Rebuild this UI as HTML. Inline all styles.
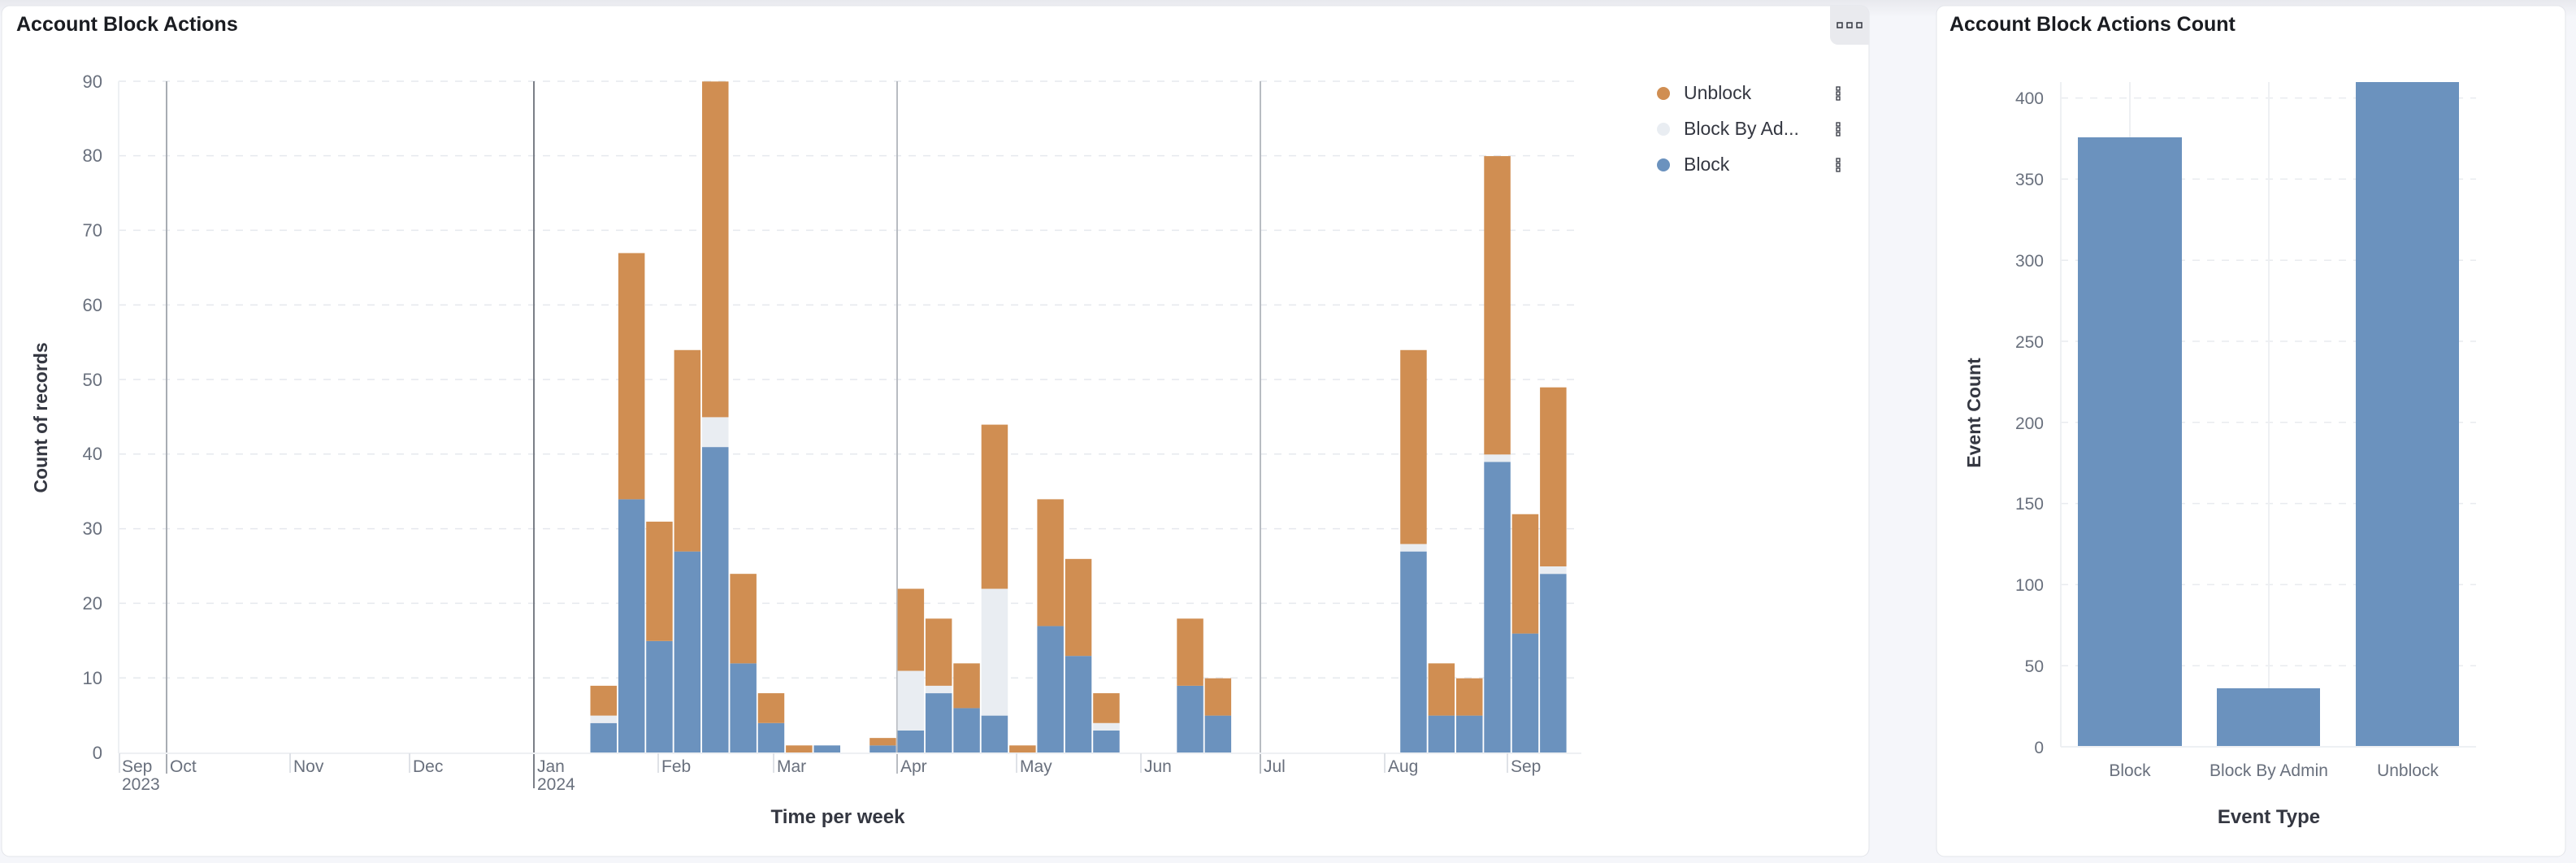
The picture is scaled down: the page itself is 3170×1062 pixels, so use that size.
<!DOCTYPE html>
<html><head><meta charset="utf-8"><style>
html,body{margin:0;padding:0;width:3170px;height:1062px;overflow:hidden;background:#f4f5f9;}
svg{display:block;font-family:"Liberation Sans",sans-serif;}
</style></head><body>
<svg width="3170" height="1062" viewBox="0 0 3170 1062" xmlns="http://www.w3.org/2000/svg">
<defs>
<linearGradient id="bg" x1="0" y1="0" x2="0" y2="1"><stop offset="0" stop-color="#e8e9ee"/><stop offset="0.02" stop-color="#f5f6fa"/><stop offset="1" stop-color="#f5f6fa"/></linearGradient>
</defs>
<rect width="3170" height="1062" fill="url(#bg)"/>
<!-- left panel -->
<rect x="2" y="7" width="2298" height="1047" rx="10" fill="#fff" stroke="#e3e5ea" stroke-width="1"/>
<text x="20" y="38" font-size="25" font-weight="bold" fill="#1a1c21">Account Block Actions</text>
<path d="M2252,7 H2290 a10,10 0 0 1 10,10 V55 H2262 a10,10 0 0 1 -10,-10 Z" fill="#e9eaee"/>
<g fill="none" stroke="#343741" stroke-width="1.5">
<rect x="2261" y="28" width="6" height="6"/><rect x="2273" y="28" width="6" height="6"/><rect x="2285" y="28" width="6" height="6"/>
</g>
<!-- grid -->
<g stroke="#e6e9ee" stroke-width="1.5" stroke-dasharray="9 9">
<line x1="146" x2="1946" y1="834.2" y2="834.2"/><line x1="146" x2="1946" y1="742.4" y2="742.4"/>
<line x1="146" x2="1946" y1="650.6" y2="650.6"/><line x1="146" x2="1946" y1="558.8" y2="558.8"/>
<line x1="146" x2="1946" y1="467" y2="467"/><line x1="146" x2="1946" y1="375.2" y2="375.2"/>
<line x1="146" x2="1946" y1="283.4" y2="283.4"/><line x1="146" x2="1946" y1="191.6" y2="191.6"/>
<line x1="146" x2="1946" y1="100" y2="100"/>
</g>
<line x1="146" y1="100" x2="146" y2="927" stroke="#eef0f3" stroke-width="2"/>
<!-- quarter lines -->
<line x1="205" y1="100" x2="205" y2="952" stroke="#a8acb3" stroke-width="2"/>
<line x1="657" y1="100" x2="657" y2="970" stroke="#7b7f87" stroke-width="2"/>
<line x1="1104" y1="100" x2="1104" y2="952" stroke="#b8bcc2" stroke-width="2"/>
<line x1="1551" y1="100" x2="1551" y2="952" stroke="#b8bcc2" stroke-width="2"/>
<!-- bars -->
<g transform="translate(0,926.5) scale(1,-9.18)">
<g fill="#6b92be">
<rect x="726.5" y="0" width="32.5" height="4"/><rect x="760.9" y="0" width="32.5" height="34"/>
<rect x="795.2" y="0" width="32.5" height="15"/><rect x="829.6" y="0" width="32.5" height="27"/>
<rect x="864" y="0" width="32.5" height="41"/><rect x="898.4" y="0" width="32.5" height="12"/>
<rect x="932.7" y="0" width="32.5" height="4"/><rect x="1001.5" y="0" width="32.5" height="1"/>
<rect x="1070.2" y="0" width="32.5" height="1"/><rect x="1104.6" y="0" width="32.5" height="3"/>
<rect x="1138.9" y="0" width="32.5" height="8"/><rect x="1173.3" y="0" width="32.5" height="6"/>
<rect x="1207.7" y="0" width="32.5" height="5"/><rect x="1276.4" y="0" width="32.5" height="17"/>
<rect x="1310.8" y="0" width="32.5" height="13"/><rect x="1345.2" y="0" width="32.5" height="3"/>
<rect x="1448.3" y="0" width="32.5" height="9"/><rect x="1482.6" y="0" width="32.5" height="5"/>
<rect x="1723.2" y="0" width="32.5" height="27"/><rect x="1757.6" y="0" width="32.5" height="5"/>
<rect x="1792" y="0" width="32.5" height="5"/><rect x="1826.3" y="0" width="32.5" height="39"/>
<rect x="1860.7" y="0" width="32.5" height="16"/><rect x="1895.1" y="0" width="32.5" height="24"/>
</g>
<g fill="#e9edf2">
<rect x="726.5" y="4" width="32.5" height="1"/><rect x="864" y="41" width="32.5" height="4"/>
<rect x="1104.6" y="3" width="32.5" height="8"/><rect x="1138.9" y="8" width="32.5" height="1"/>
<rect x="1207.7" y="5" width="32.5" height="17"/><rect x="1345.2" y="3" width="32.5" height="1"/>
<rect x="1723.2" y="27" width="32.5" height="1"/><rect x="1826.3" y="39" width="32.5" height="1"/>
<rect x="1895.1" y="24" width="32.5" height="1"/>
</g>
<g fill="#d08e52">
<rect x="726.5" y="5" width="32.5" height="4"/><rect x="760.9" y="34" width="32.5" height="33"/>
<rect x="795.2" y="15" width="32.5" height="16"/><rect x="829.6" y="27" width="32.5" height="27"/>
<rect x="864" y="45" width="32.5" height="45"/><rect x="898.4" y="12" width="32.5" height="12"/>
<rect x="932.7" y="4" width="32.5" height="4"/><rect x="967.1" y="0" width="32.5" height="1"/>
<rect x="1070.2" y="1" width="32.5" height="1"/><rect x="1104.6" y="11" width="32.5" height="11"/>
<rect x="1138.9" y="9" width="32.5" height="9"/><rect x="1173.3" y="6" width="32.5" height="6"/>
<rect x="1207.7" y="22" width="32.5" height="22"/><rect x="1242.1" y="0" width="32.5" height="1"/>
<rect x="1276.4" y="17" width="32.5" height="17"/><rect x="1310.8" y="13" width="32.5" height="13"/>
<rect x="1345.2" y="4" width="32.5" height="4"/><rect x="1448.3" y="9" width="32.5" height="9"/>
<rect x="1482.6" y="5" width="32.5" height="5"/><rect x="1723.2" y="28" width="32.5" height="26"/>
<rect x="1757.6" y="5" width="32.5" height="7"/><rect x="1792" y="5" width="32.5" height="5"/>
<rect x="1826.3" y="40" width="32.5" height="40"/><rect x="1860.7" y="16" width="32.5" height="16"/>
<rect x="1895.1" y="25" width="32.5" height="24"/>
</g>
</g>
<line x1="146" y1="927" x2="1946" y2="927" stroke="#eef0f3" stroke-width="2"/>
<!-- month ticks -->
<g stroke="#dfe2e7" stroke-width="2">
<line x1="147" y1="927" x2="147" y2="951"/><line x1="357" y1="927" x2="357" y2="951"/>
<line x1="504" y1="927" x2="504" y2="951"/><line x1="810" y1="927" x2="810" y2="951"/>
<line x1="952" y1="927" x2="952" y2="951"/><line x1="1251" y1="927" x2="1251" y2="951"/>
<line x1="1404" y1="927" x2="1404" y2="951"/><line x1="1704" y1="927" x2="1704" y2="951"/>
<line x1="1855" y1="927" x2="1855" y2="951"/>
</g>
<g font-size="21" fill="#69707d">
<text x="150" y="950">Sep</text><text x="150" y="972">2023</text>
<text x="209" y="950">Oct</text><text x="361" y="950">Nov</text><text x="508" y="950">Dec</text>
<text x="661" y="950">Jan</text><text x="661" y="972">2024</text>
<text x="814" y="950">Feb</text><text x="956" y="950">Mar</text><text x="1108" y="950">Apr</text>
<text x="1255" y="950">May</text><text x="1408" y="950">Jun</text><text x="1555" y="950">Jul</text>
<text x="1708" y="950">Aug</text><text x="1859" y="950">Sep</text>
</g>
<g font-size="22" fill="#69707d" text-anchor="end">
<text x="126" y="934">0</text><text x="126" y="842">10</text><text x="126" y="750">20</text>
<text x="126" y="658">30</text><text x="126" y="566">40</text><text x="126" y="475">50</text>
<text x="126" y="383">60</text><text x="126" y="291">70</text><text x="126" y="199">80</text>
<text x="126" y="108">90</text>
</g>
<text transform="translate(58,514) rotate(-90)" text-anchor="middle" font-size="23" font-weight="bold" fill="#343741">Count of records</text>
<text x="1031" y="1013" text-anchor="middle" font-size="24" font-weight="bold" fill="#343741">Time per week</text>
<!-- legend -->
<circle cx="2047" cy="115" r="8" fill="#d08e52"/><circle cx="2047" cy="159" r="8" fill="#e9edf2"/><circle cx="2047" cy="203" r="8" fill="#6b92be"/>
<g font-size="23" fill="#343741">
<text x="2072" y="122">Unblock</text><text x="2072" y="166">Block By Ad...</text><text x="2072" y="210">Block</text>
</g>
<g fill="none" stroke="#343741" stroke-width="1.3">
<rect x="2260" y="107" width="4" height="4"/><rect x="2260" y="113" width="4" height="4"/><rect x="2260" y="119" width="4" height="4"/>
<rect x="2260" y="151" width="4" height="4"/><rect x="2260" y="157" width="4" height="4"/><rect x="2260" y="163" width="4" height="4"/>
<rect x="2260" y="195" width="4" height="4"/><rect x="2260" y="201" width="4" height="4"/><rect x="2260" y="207" width="4" height="4"/>
</g>
<!-- right panel -->
<rect x="2383" y="7" width="774" height="1047" rx="10" fill="#fff" stroke="#e3e5ea" stroke-width="1"/>
<text x="2399" y="38" font-size="25" font-weight="bold" fill="#1a1c21">Account Block Actions Count</text>
<g stroke="#e9ebef" stroke-width="1.5" stroke-dasharray="9 9">
<line x1="2536" x2="3047" y1="819.2" y2="819.2"/><line x1="2536" x2="3047" y1="719.4" y2="719.4"/>
<line x1="2536" x2="3047" y1="619.6" y2="619.6"/><line x1="2536" x2="3047" y1="519.8" y2="519.8"/>
<line x1="2536" x2="3047" y1="420" y2="420"/><line x1="2536" x2="3047" y1="320.2" y2="320.2"/>
<line x1="2536" x2="3047" y1="220.4" y2="220.4"/><line x1="2536" x2="3047" y1="120.6" y2="120.6"/>
</g>
<g stroke="#eef0f3" stroke-width="2">
<line x1="2536" y1="101" x2="2536" y2="919"/>
<line x1="2621" y1="101" x2="2621" y2="919"/><line x1="2792" y1="101" x2="2792" y2="919"/><line x1="2963" y1="101" x2="2963" y2="919"/>
</g>
<g fill="#6b92be">
<rect x="2557" y="169" width="128" height="750"/>
<rect x="2728" y="847" width="127" height="72"/>
<rect x="2899" y="101" width="127" height="818"/>
</g>
<line x1="2536" y1="919" x2="3047" y2="919" stroke="#eef0f3" stroke-width="2"/>
<g font-size="21" fill="#69707d" text-anchor="end">
<text x="2515" y="927">0</text><text x="2515" y="827">50</text><text x="2515" y="727">100</text>
<text x="2515" y="627">150</text><text x="2515" y="528">200</text><text x="2515" y="428">250</text>
<text x="2515" y="328">300</text><text x="2515" y="228">350</text><text x="2515" y="128">400</text>
</g>
<g font-size="21" fill="#69707d" text-anchor="middle">
<text x="2621" y="955">Block</text><text x="2792" y="955">Block By Admin</text><text x="2963" y="955">Unblock</text>
</g>
<text transform="translate(2437,508) rotate(-90)" text-anchor="middle" font-size="23" font-weight="bold" fill="#343741">Event Count</text>
<text x="2792" y="1013" text-anchor="middle" font-size="24" font-weight="bold" fill="#343741">Event Type</text>
</svg>
</body></html>
